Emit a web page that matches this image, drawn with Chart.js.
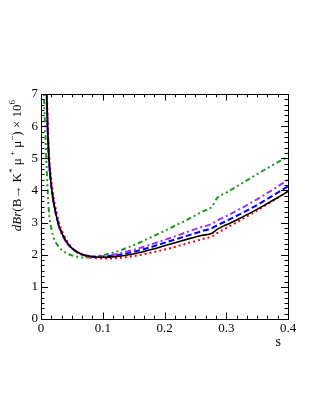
<!DOCTYPE html>
<html>
<head>
<meta charset="utf-8">
<script src="https://cdn.jsdelivr.net/npm/chart.js@4/dist/chart.umd.min.js"></script>
<style>
  body { margin: 0; background: #fff; }
  canvas { display: block; }
</style>
</head>
<body>
<canvas id="dbrChart" width="321" height="415"></canvas>
<script>
// s values (shared by all curves)
const sValues = [0.004, 0.006, 0.008, 0.01, 0.0125, 0.015, 0.02, 0.025, 0.03, 0.04,
  0.05, 0.06, 0.07, 0.08, 0.09, 0.1, 0.12, 0.14, 0.16, 0.18, 0.2, 0.22, 0.24, 0.26,
  0.277, 0.285, 0.3, 0.32, 0.34, 0.36, 0.38, 0.4];

const blackSolid = [16, 10.5, 8.0, 6.4, 5.1, 4.45, 3.68, 3.2, 2.85, 2.44,
  2.2, 2.07, 1.99, 1.95, 1.93, 1.92, 1.94, 1.99, 2.07, 2.17, 2.28, 2.39, 2.5, 2.6,
  2.67, 2.79, 2.93, 3.11, 3.31, 3.52, 3.74, 3.97];

const redDotted = [17, 11, 8.4, 6.7, 5.35, 4.65, 3.85, 3.33, 2.95, 2.5,
  2.23, 2.07, 1.97, 1.92, 1.89, 1.88, 1.89, 1.93, 1.99, 2.07, 2.16, 2.26, 2.37, 2.48,
  2.57, 2.67, 2.83, 3.04, 3.26, 3.49, 3.73, 3.97];

const blueDashed = [16, 10.5, 8.0, 6.4, 5.1, 4.45, 3.68, 3.2, 2.85, 2.43,
  2.2, 2.06, 1.98, 1.94, 1.93, 1.94, 1.98, 2.05, 2.14, 2.25, 2.37, 2.49, 2.61, 2.73,
  2.83, 2.91, 3.05, 3.24, 3.44, 3.66, 3.89, 4.13];

const violetDashDot = [16, 10.5, 8.0, 6.4, 5.1, 4.42, 3.65, 3.17, 2.82, 2.42,
  2.2, 2.07, 1.99, 1.96, 1.95, 1.96, 2.01, 2.1, 2.21, 2.33, 2.46, 2.59, 2.73, 2.86,
  2.96, 3.06, 3.2, 3.4, 3.61, 3.84, 4.08, 4.33];

const greenDashDotDot = [7.4, 6.3, 5.3, 4.3, 3.42, 3.0, 2.56, 2.35, 2.22, 2.06,
  1.98, 1.93, 1.91, 1.92, 1.95, 1.99, 2.08, 2.22, 2.38, 2.56, 2.74, 2.93, 3.12, 3.33,
  3.5, 3.76, 3.93, 4.16, 4.39, 4.62, 4.84, 5.05];

const xMajorTicks = [0, 0.1, 0.2, 0.3, 0.4];
const yMajorTicks = [0, 1, 2, 3, 4, 5, 6, 7];

const serif = "'Liberation Serif', 'DejaVu Serif', serif";

function toPoints(values) {
  return sValues.map((s, i) => ({ x: s, y: values[i] }));
}

function curve(values, color, dash, width) {
  return {
    data: toPoints(values),
    borderColor: color,
    borderWidth: width,
    borderDash: dash,
    pointRadius: 0,
    fill: false,
    cubicInterpolationMode: 'monotone',
    clip: 0
  };
}

// ROOT style frame with inward ticks on all four sides
const framePlugin = {
  id: 'frame',
  afterDatasetsDraw(chart) {
    const { ctx, chartArea: a, scales } = chart;
    const xs = scales.x, ys = scales.y;
    ctx.save();
    ctx.strokeStyle = '#000';
    ctx.lineWidth = 1;
    ctx.beginPath();
    // x ticks: 6 subdivisions per 0.1
    for (let i = 0; i <= 24; i++) {
      const px = Math.round(xs.getPixelForValue(i * 0.1 / 6)) + 0.5;
      const len = i % 6 === 0 ? 6.5 : 3.3;
      ctx.moveTo(px, a.bottom); ctx.lineTo(px, a.bottom - len);
      ctx.moveTo(px, a.top); ctx.lineTo(px, a.top + len);
    }
    // y ticks: 6 subdivisions per unit
    for (let i = 0; i <= 42; i++) {
      const py = Math.round(ys.getPixelForValue(i / 6)) + 0.5;
      const len = i % 6 === 0 ? 7 : 3.5;
      ctx.moveTo(a.left, py); ctx.lineTo(a.left + len, py);
      ctx.moveTo(a.right, py); ctx.lineTo(a.right - len, py);
    }
    ctx.stroke();
    ctx.strokeRect(Math.round(a.left) + 0.5, Math.round(a.top) + 0.5,
      Math.round(a.right - a.left), Math.round(a.bottom - a.top));
    ctx.restore();
  },
  afterDraw(chart) {
    const { ctx, chartArea: a } = chart;
    ctx.save();
    ctx.fillStyle = '#000';
    // x axis title
    ctx.font = '14px ' + serif;
    ctx.textAlign = 'right';
    ctx.textBaseline = 'alphabetic';
    ctx.fillText('s', a.right - 7, a.bottom + 27);

    // y axis title, rotated, right aligned to the top of the axis
    const parts = [
      { t: 'dBr', f: 'italic 13px ' + serif, up: 0 },
      { t: '(B\u2192 K', f: '13px ' + serif, up: 0 },
      { t: '*', f: '9px ' + serif, up: 6 },
      { t: ' \u03bc', f: '13px ' + serif, up: 0 },
      { t: ' +', f: '9px ' + serif, up: 6 },
      { t: ' \u03bc', f: '13px ' + serif, up: 0 },
      { t: '\u2212', f: '9px ' + serif, up: 6 },
      { t: ') \u00d7 10', f: '13px ' + serif, up: 0 },
      { t: '6', f: '9px ' + serif, up: 6 }
    ];
    let total = 0;
    parts.forEach(p => { ctx.font = p.f; p.w = ctx.measureText(p.t).width; total += p.w; });
    ctx.translate(21, a.top + 6);
    ctx.rotate(-Math.PI / 2);
    ctx.textAlign = 'left';
    let x = -total;
    parts.forEach(p => {
      ctx.font = p.f;
      ctx.fillText(p.t, x, -p.up);
      x += p.w;
    });
    ctx.restore();
  }
};

new Chart(document.getElementById('dbrChart'), {
  type: 'line',
  data: {
    datasets: [
      curve(blackSolid, '#000000', [], 1.6),
      curve(redDotted, '#ff0000', [2, 3], 2),
      curve(violetDashDot, '#9933ee', [6, 3, 2, 3], 2),
      curve(blueDashed, '#0000ff', [6, 3], 2),
      curve(greenDashDotDot, '#1a991a', [5, 3, 2, 3, 2, 3], 2)
    ]
  },
  options: {
    responsive: false,
    animation: false,
    layout: { padding: { top: 94, right: 33, left: 0, bottom: 0 } },
    plugins: { legend: { display: false }, tooltip: { enabled: false } },
    scales: {
      x: {
        type: 'linear',
        min: 0,
        max: 0.4,
        grid: { display: false, drawTicks: false },
        border: { display: false },
        afterBuildTicks: scale => { scale.ticks = xMajorTicks.map(v => ({ value: v })); },
        afterFit: scale => { scale.height = 96; },
        ticks: {
          color: '#000',
          padding: 2,
          maxRotation: 0,
          autoSkip: false,
          font: { family: serif, size: 13 },
          callback: v => String(v)
        }
      },
      y: {
        min: 0,
        max: 7,
        grid: { display: false, drawTicks: false },
        border: { display: false },
        afterBuildTicks: scale => { scale.ticks = yMajorTicks.map(v => ({ value: v })); },
        afterFit: scale => { scale.width = 41; },
        ticks: {
          color: '#000',
          padding: 3,
          autoSkip: false,
          font: { family: serif, size: 13 },
          callback: v => String(v)
        }
      }
    }
  },
  plugins: [framePlugin]
});
</script>
</body>
</html>
